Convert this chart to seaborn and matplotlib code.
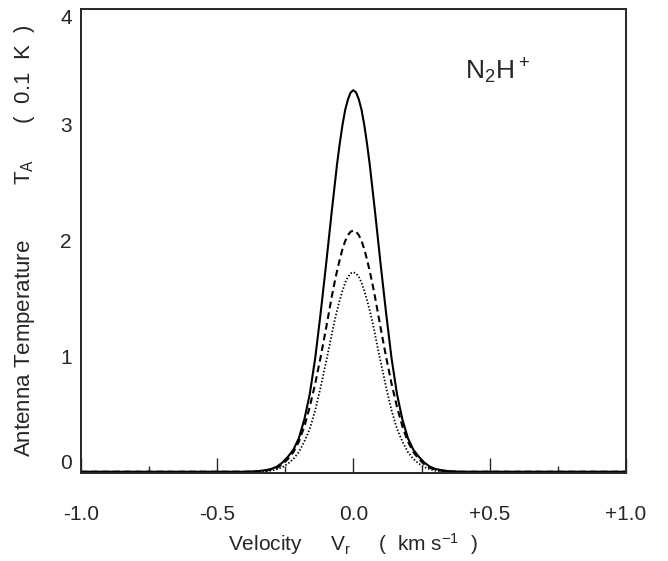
import numpy as np
import pandas as pd
import matplotlib
matplotlib.use("Agg")
import matplotlib.pyplot as plt
import seaborn as sns
from matplotlib.ticker import MultipleLocator

# velocity grid (km/s) and the three N2H+ profiles
velocity = [-1.0, -0.40, -0.35, -0.32, -0.30, -0.28, -0.26, -0.24, -0.22, -0.20,
            -0.18, -0.16, -0.14, -0.12, -0.10, -0.09, -0.08, -0.07, -0.06, -0.05,
            -0.04, -0.03, -0.02, -0.01, 0.0,
            0.01, 0.02, 0.03, 0.04, 0.05, 0.06, 0.07, 0.08, 0.09, 0.10,
            0.12, 0.14, 0.16, 0.18, 0.20, 0.22, 0.24, 0.26, 0.28, 0.30,
            0.32, 0.35, 0.40, 1.0]

ta_solid = [0.01, 0.01, 0.015, 0.025, 0.035, 0.055, 0.09, 0.14, 0.20, 0.30,
            0.46, 0.68, 0.99, 1.38, 1.80, 2.02, 2.24, 2.45, 2.66, 2.84,
            3.00, 3.13, 3.22, 3.28, 3.30,
            3.28, 3.22, 3.13, 3.00, 2.84, 2.66, 2.45, 2.24, 2.02, 1.80,
            1.38, 0.99, 0.68, 0.46, 0.30, 0.20, 0.14, 0.09, 0.055, 0.035,
            0.025, 0.015, 0.01, 0.01]

ta_dashed = [0.01, 0.01, 0.012, 0.02, 0.03, 0.045, 0.075, 0.12, 0.18, 0.27,
             0.40, 0.57, 0.77, 1.00, 1.25, 1.38, 1.51, 1.63, 1.74, 1.84,
             1.93, 2.00, 2.05, 2.08, 2.09,
             2.08, 2.05, 2.00, 1.93, 1.84, 1.74, 1.63, 1.51, 1.38, 1.25,
             1.00, 0.77, 0.57, 0.40, 0.27, 0.18, 0.12, 0.075, 0.045, 0.03,
             0.02, 0.012, 0.01, 0.01]

ta_dotted = [0.01, 0.01, 0.01, 0.015, 0.02, 0.032, 0.05, 0.08, 0.12, 0.18,
             0.27, 0.38, 0.54, 0.74, 0.96, 1.07, 1.19, 1.30, 1.40, 1.49,
             1.57, 1.64, 1.69, 1.72, 1.73,
             1.72, 1.69, 1.64, 1.57, 1.49, 1.40, 1.30, 1.19, 1.07, 0.96,
             0.74, 0.54, 0.38, 0.27, 0.18, 0.12, 0.08, 0.05, 0.032, 0.02,
             0.015, 0.01, 0.01, 0.01]

x_ticks = [-1.0, -0.5, 0.0, 0.5, 1.0]
x_ticklabels = ["-1.0", "-0.5", "0.0", "+0.5", "+1.0"]
y_ticks = [0, 1, 2, 3, 4]

df = pd.DataFrame({"v": velocity, "solid": ta_solid,
                   "dashed": ta_dashed, "dotted": ta_dotted})

sns.set_style("ticks")
plt.rcParams["font.family"] = ["Liberation Sans", "DejaVu Sans"]
plt.rcParams["mathtext.default"] = "regular"

fig = plt.figure(figsize=(6.68, 5.61), dpi=100)
ax = fig.add_axes([0.121, 0.157, 0.816, 0.827])

sns.lineplot(data=df, x="v", y="solid", ax=ax, color="black", lw=1.5, sort=False)
sns.lineplot(data=df, x="v", y="dashed", ax=ax, color="black", lw=1.5,
             linestyle=(0, (3.2, 2.0)), sort=False)
sns.lineplot(data=df, x="v", y="dotted", ax=ax, color="black", lw=1.3,
             linestyle=(0, (0.8, 1.1)), sort=False)

ax.set_xlim(-1.0, 1.0)
ax.set_ylim(0, 4)

ax.set_xticks(x_ticks)
ax.set_xticklabels(x_ticklabels)
ax.xaxis.set_minor_locator(MultipleLocator(0.25))
ax.tick_params(axis="x", which="major", direction="in", length=10.8, width=1.0,
               pad=23, labelsize=15)
ax.tick_params(axis="x", which="minor", direction="in", length=5, width=1.0)
ax.tick_params(axis="x", top=False)

ax.set_yticks(y_ticks)
ax.tick_params(axis="y", length=0, pad=6.5, labelsize=15)
ylabs = ax.get_yticklabels()
ylabs[0].set_va("bottom")
ylabs[-1].set_va("top")

for sp in ax.spines.values():
    sp.set_linewidth(1.4)
    sp.set_visible(True)

ax.set_xlabel("Velocity     $V_r$     (  km s$^{-1}$  )", fontsize=15, labelpad=5)
ax.set_ylabel("Antenna Temperature         $T_A$      (  0.1  K  )", fontsize=16,
              labelpad=8)
ax.yaxis.set_label_coords(-0.08, 0.50)

ax.text(0.765, 0.865, "$N_2H^+$", transform=ax.transAxes, fontsize=19,
        ha="center", va="center")

fig.savefig("out.png", dpi=100)
